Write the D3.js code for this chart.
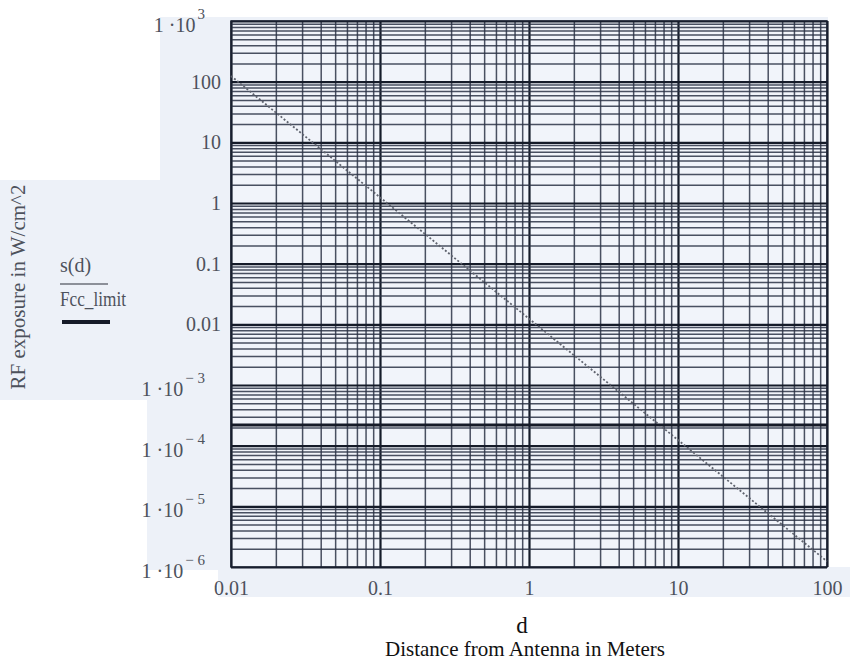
<!DOCTYPE html>
<html>
<head>
<meta charset="utf-8">
<script src="https://cdn.jsdelivr.net/npm/d3@7"></script>
<style>
  body { margin: 0; background: #ffffff; }
  text { font-family: "Liberation Serif", "Times New Roman", serif; }
</style>
</head>
<body>
<div id="chart"></div>
<script>
// s(d) (straight line on log-log axes)
var distance = [0.01, 0.1, 1, 10, 100];
var exposure = [124, 1.24, 0.0124, 1.24e-4, 1.24e-6];

// FCC limit, horizontal line
var fccDistance = [0.01, 100];
var fccLimit = [2.2e-4, 2.2e-4];

var xTicks = [0.01, 0.1, 1, 10, 100];
var xTickLabels = ["0.01", "0.1", "1", "10", "100"];

var yTicks = [1e3, 100, 10, 1, 0.1, 0.01, 1e-3, 1e-4, 1e-5, 1e-6];
var yTickBase = ["1 \u00b710", "100", "10", "1", "0.1", "0.01", "1 \u00b710", "1 \u00b710", "1 \u00b710", "1 \u00b710"];
var yTickExp = ["3", "", "", "", "", "", "\u2212 3", "\u2212 4", "\u2212 5", "\u2212 6"];

var margin = { top: 21, right: 23, bottom: 95, left: 231 },
    width = 850 - margin.left - margin.right,
    height = 662 - margin.top - margin.bottom;

var root = d3.select("#chart").append("svg")
    .attr("width", 850)
    .attr("height", 662);

// scanned page background
root.append("path")
    .attr("d", "M160,17 L828,17 L828,567 L850,567 L850,597 L218,597 L218,570 L147,570 L147,400 L0,400 L0,180 L160,180 Z")
    .attr("fill", "#edf1f8");

var svg = root.append("g")
    .attr("transform", "translate(" + margin.left + "," + margin.top + ")");

var x = d3.scaleLog().domain([0.01, 100]).range([0, width]);
var y = d3.scaleLog().domain([1e-6, 1e3]).range([height, 0]);

svg.append("rect")
    .attr("width", width)
    .attr("height", height)
    .attr("fill", "#f1f4fa");

// every 1..9 x decade value for the grid
function gridValues(lo, hi) {
    var vals = [];
    for (var e = lo; e < hi; e++) {
        for (var k = 1; k <= 9; k++) vals.push(+(k * Math.pow(10, e)).toPrecision(3));
    }
    vals.push(Math.pow(10, hi));
    return vals;
}
function isMajor(v) {
    var l = Math.log10(v);
    return Math.abs(l - Math.round(l)) < 1e-6;
}

var xGrid = svg.append("g")
    .attr("class", "x grid")
    .attr("transform", "translate(0," + height + ")")
    .call(d3.axisBottom(x).tickValues(gridValues(-2, 2)).tickSize(-height).tickFormat(""));

var yGrid = svg.append("g")
    .attr("class", "y grid")
    .call(d3.axisLeft(y).tickValues(gridValues(-6, 3)).tickSize(-width).tickFormat(""));

svg.selectAll(".grid .domain").remove();
svg.selectAll(".grid .tick line")
    .attr("stroke", function(d) { return isMajor(d) ? "#151b29" : "#2c3345"; })
    .attr("stroke-width", function(d) { return isMajor(d) ? 2.2 : 1.5; })
    .attr("opacity", function(d) { return isMajor(d) ? 1 : 0.85; });

// frame
svg.append("rect")
    .attr("width", width)
    .attr("height", height)
    .attr("fill", "none")
    .attr("stroke", "#1a2030")
    .attr("stroke-width", 1.5);

// x tick labels
var xAxis = svg.append("g")
    .attr("transform", "translate(0," + height + ")")
    .call(d3.axisBottom(x).tickValues(xTicks).tickSize(0).tickPadding(14)
        .tickFormat(function(d, i) { return xTickLabels[i]; }));
xAxis.select(".domain").remove();
xAxis.selectAll("text")
    .attr("font-size", 20)
    .attr("fill", "#4d525c")
    .style("font-family", "Liberation Serif");

// y tick labels with superscripts
var yLab = svg.append("g").attr("class", "y labels");
yTicks.forEach(function(v, i) {
    var hasExp = yTickExp[i] !== "";
    var t = yLab.append("text")
        .attr("x", hasExp ? -26 : -10)
        .attr("y", y(v) + (hasExp ? 11 : 7))
        .attr("text-anchor", "end")
        .attr("font-size", 20)
        .attr("fill", "#4d525c");
    t.append("tspan").text(yTickBase[i]);
    if (hasExp) {
        t.append("tspan")
            .attr("dy", -13)
            .attr("dx", 2)
            .attr("font-size", 15)
            .text(yTickExp[i]);
    }
});

// data lines
var line = d3.line()
    .x(function(d) { return x(d[0]); })
    .y(function(d) { return y(d[1]); });

svg.append("path")
    .datum(distance.map(function(d, i) { return [d, exposure[i]]; }))
    .attr("d", line)
    .attr("fill", "none")
    .attr("stroke", "#5f636e")
    .attr("stroke-width", 1.8)
    .attr("stroke-dasharray", "2,2");

svg.append("path")
    .datum(fccDistance.map(function(d, i) { return [d, fccLimit[i]]; }))
    .attr("d", line)
    .attr("fill", "none")
    .attr("stroke", "#161b28")
    .attr("stroke-width", 3);

// axis titles
root.append("text")
    .attr("x", 522)
    .attr("y", 633)
    .attr("text-anchor", "middle")
    .attr("font-size", 23)
    .attr("fill", "#111")
    .text("d");

root.append("text")
    .attr("x", 525)
    .attr("y", 656)
    .attr("text-anchor", "middle")
    .attr("font-size", 21)
    .attr("fill", "#111")
    .text("Distance from Antenna in Meters");

root.append("text")
    .attr("transform", "translate(25,287) rotate(-90)")
    .attr("text-anchor", "middle")
    .attr("font-size", 21)
    .attr("fill", "#4d525c")
    .text("RF exposure in W/cm^2");

// legend
var legend = root.append("g").attr("fill", "#4d525c");
legend.append("text").attr("x", 60).attr("y", 272).attr("font-size", 20).text("s(d)");
legend.append("line").attr("x1", 60).attr("x2", 108).attr("y1", 284).attr("y2", 284)
    .attr("stroke", "#6b6f7a").attr("stroke-width", 1.5);
legend.append("text").attr("x", 60).attr("y", 306).attr("font-size", 20)
    .attr("textLength", 66).attr("lengthAdjust", "spacingAndGlyphs").text("Fcc_limit");
legend.append("line").attr("x1", 62).attr("x2", 110).attr("y1", 322).attr("y2", 322)
    .attr("stroke", "#161b28").attr("stroke-width", 4);
</script>
</body>
</html>
